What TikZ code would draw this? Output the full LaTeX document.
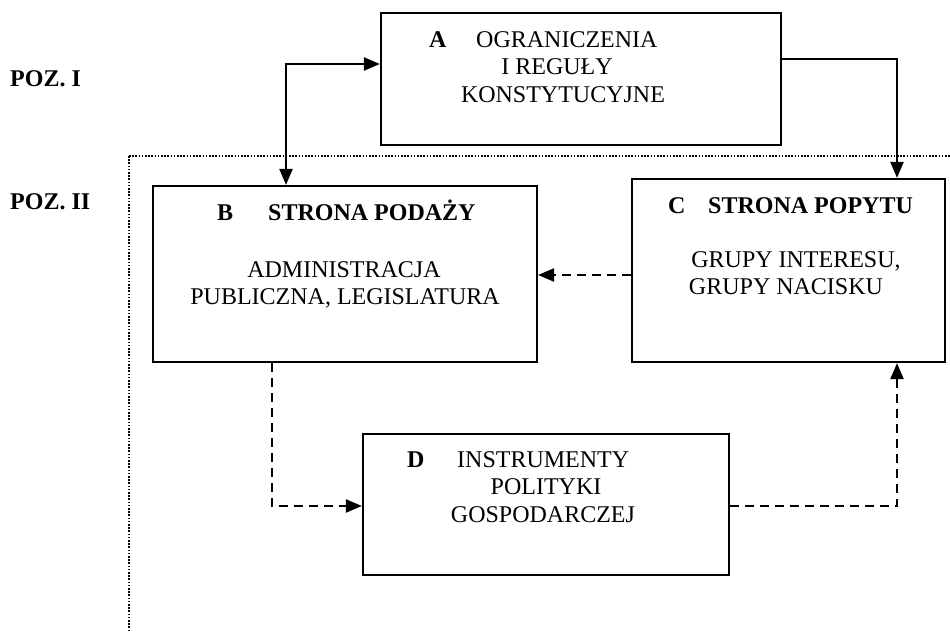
\documentclass[tikz,border=0pt]{standalone}
\usepackage{fontspec}
\setmainfont{Liberation Serif}
\usetikzlibrary{arrows.meta}
\begin{document}
\begin{tikzpicture}[x=1pt,y=-1pt,
  box/.style={draw, line width=2.2pt, inner sep=0pt, fill=none},
  txt/.style={inner sep=0pt, font=\fontsize{24}{28}\selectfont},
  btxt/.style={inner sep=0pt, font=\fontsize{24}{28}\selectfont\bfseries},
  solidarr/.style={line width=2.2pt, -{Triangle[length=16pt,width=13pt]}},
  dasharr/.style={line width=2.2pt, dash pattern=on 9pt off 6pt, -{Triangle[length=16pt,width=13pt]}},
  frame/.style={line width=1.6pt, dash pattern=on 1.6pt off 1.6pt}]
\useasboundingbox (0,0) rectangle (950,632);
% boxes
\node[box, minimum width=400pt, minimum height=132pt] (A) at (581,79) {};
\node[box, minimum width=384pt, minimum height=176pt] (B) at (345,274) {};
\node[box, minimum width=313pt, minimum height=183pt] (C) at (788.5,270.5) {};
\node[box, minimum width=366pt, minimum height=141pt] (D) at (546,504.5) {};
% dotted frame
\coordinate (f1) at (950,156);
\coordinate (f2) at (129,156);
\coordinate (f3) at (129,632);
\draw[frame] (f2) -- (f1);
\draw[frame] (f2) -- (f3);
% level labels
\node[btxt, anchor=base west] (p1) at (10,86) {POZ. I};
\node[btxt, anchor=base west] (p2) at (10,209) {POZ. II};
% A text
\node[btxt, anchor=base west] (a0) at (429,47) {A};
\node[txt, anchor=base west] (a1) at (476,47) {OGRANICZENIA};
\node[txt, anchor=base] (a2) at (557,74) {I REGUŁY};
\node[txt, anchor=base] (a3) at (563,102) {KONSTYTUCYJNE};
% B text
\node[btxt, anchor=base west] (b0) at (217,220) {B};
\node[btxt, anchor=base west] (b1) at (268,220) {STRONA PODAŻY};
\node[txt, anchor=base] (b2) at (344,277) {ADMINISTRACJA};
\node[txt, anchor=base] (b3) at (345,304) {PUBLICZNA, LEGISLATURA};
% C text
\node[btxt, anchor=base west] (c0) at (668,213) {C};
\node[btxt, anchor=base west] (c1) at (708,213) {STRONA POPYTU};
\node[txt, anchor=base] (c2) at (796,267) {GRUPY INTERESU,};
\node[txt, anchor=base] (c3) at (786,294) {GRUPY NACISKU};
% D text
\node[btxt, anchor=base west] (d0) at (407,467) {D};
\node[txt, anchor=base west] (d1) at (457,467) {INSTRUMENTY};
\node[txt, anchor=base] (d2) at (546,494) {POLITYKI};
\node[txt, anchor=base] (d3) at (543,522) {GOSPODARCZEJ};
% connectors
\coordinate (ab) at (286,64);
\draw[line width=2.2pt, {Triangle[length=16pt,width=13pt]}-{Triangle[length=16pt,width=13pt]}]
  (ab |- B.north) -- (ab) -- (A.west |- ab);
\coordinate (ac) at (897,59);
\draw[solidarr] (A.east |- ac) -- (ac) -- (ac |- C.north);
\coordinate (cb) at (0,275);
\draw[dasharr] (C.west |- cb) -- (B.east |- cb);
\coordinate (bd) at (272,506);
\draw[dasharr] (B.south -| bd) -- (bd) -- (D.west |- bd);
\coordinate (dc) at (897,506);
\draw[dasharr] (D.east |- dc) -- (dc) -- (dc |- C.south);
\end{tikzpicture}
\end{document}
